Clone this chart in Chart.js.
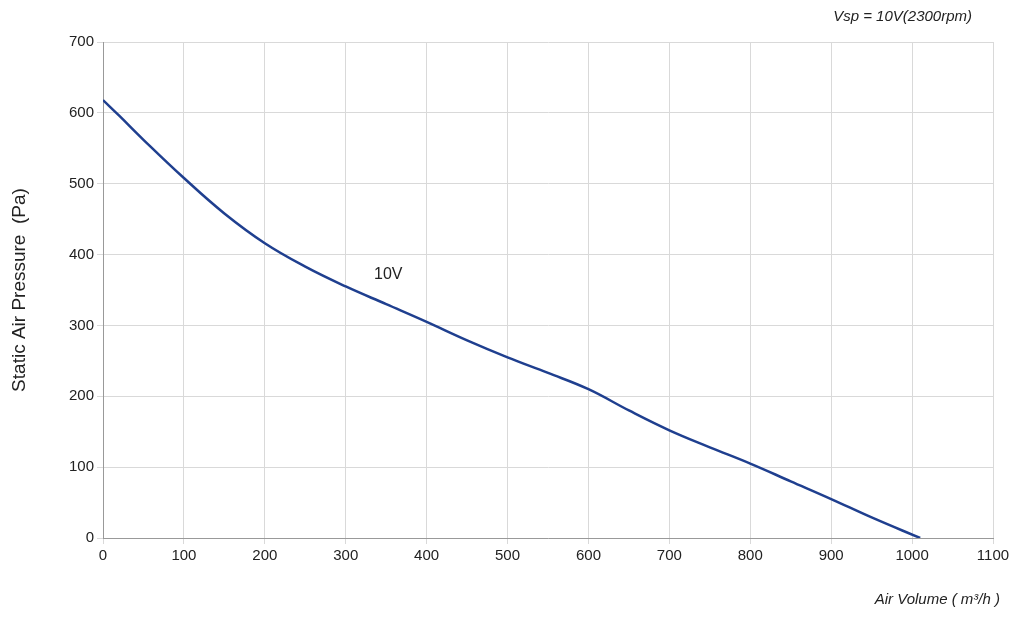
<!DOCTYPE html>
<html><head><meta charset="utf-8">
<script src="https://cdn.jsdelivr.net/npm/chart.js"></script>
<style>html,body{margin:0;background:#fff}#w{width:1024px;height:618px}</style>
</head><body><div id="w"><canvas id="c"></canvas></div>
<script>
const airVolume = [0, 20, 50, 100, 150, 200, 250, 300, 350, 400, 450, 500, 550, 600, 650, 700, 750, 800, 850, 900, 950, 1010];
const pressure10V = [618, 596, 562, 508, 458, 416, 383, 355, 330, 305, 279, 255, 233, 210, 180, 152, 128, 105, 80, 55, 29, 0];
const xTicks = [0,100,200,300,400,500,600,700,800,900,1000,1100];
const yTicks = [0,100,200,300,400,500,600,700];

const labels = {
  id:'labels',
  afterDraw(ch){
    const c=ch.ctx, x=ch.scales.x, y=ch.scales.y;
    c.save();
    c.fillStyle='#222';
    c.font='16px Arial, "Liberation Sans"';
    c.textAlign='left'; c.textBaseline='middle';
    c.fillText('10V', x.getPixelForValue(335), y.getPixelForValue(372));
    c.font='italic 15px Arial, "Liberation Sans"';
    c.textAlign='right';
    c.fillText('Vsp = 10V(2300rpm)', 972, 17);
    c.fillText('Air Volume ( m³/h )', 1000, 600);
    c.restore();
  }
};

new Chart(document.getElementById('c'),{
  type:'line',
  data:{datasets:[{data:airVolume.map((v,i)=>({x:v,y:pressure10V[i]})),borderColor:'#1f3f8f',borderWidth:2.5,pointRadius:0,tension:0.4,fill:false}]},
  options:{
    responsive:true,maintainAspectRatio:false,animation:false,
    layout:{padding:{top:42,right:31,bottom:50,left:4}},
    plugins:{legend:{display:false},tooltip:{enabled:false}},
    scales:{
      x:{type:'linear',min:0,max:1100,
        afterBuildTicks(s){s.ticks=xTicks.map(v=>({value:v}));},
        grid:{color:'#d9d9d9',tickLength:6},border:{color:'#999'},
        ticks:{color:'#222',callback:v=>String(v),font:{size:15,family:'Arial, "Liberation Sans"'},maxRotation:0}},
      y:{min:0,max:700,
        afterBuildTicks(s){s.ticks=yTicks.map(v=>({value:v}));},
        afterFit(s){s.width=99;},
        grid:{color:'#d9d9d9',tickLength:6},border:{color:'#999'},
        title:{display:true,text:'Static Air Pressure  (Pa)',color:'#222',font:{size:19,family:'Arial, "Liberation Sans"'}},
        ticks:{color:'#222',callback:v=>String(v),font:{size:15,family:'Arial, "Liberation Sans"'}}}
    }
  },
  plugins:[labels]
});
</script></body></html>
